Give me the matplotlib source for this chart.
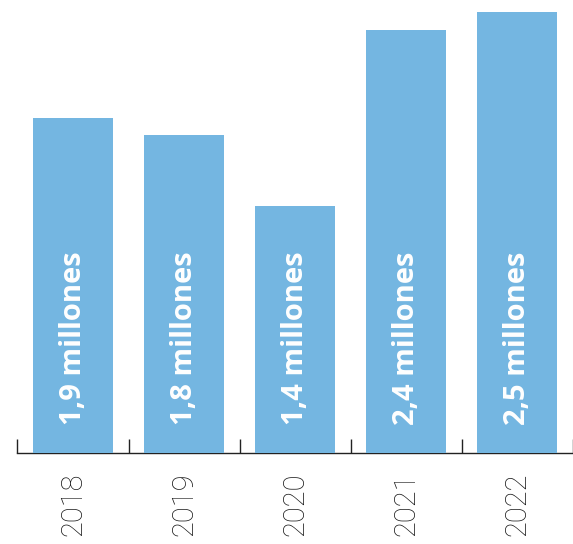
import matplotlib
matplotlib.use("Agg")
import matplotlib.pyplot as plt

years = ["2018", "2019", "2020", "2021", "2022"]
values = [1.9, 1.8, 1.4, 2.4, 2.5]
bar_labels = ["1,9 millones", "1,8 millones", "1,4 millones", "2,4 millones", "2,5 millones"]

BAR_COLOR = "#74B6E1"

fig = plt.figure(figsize=(5.73, 5.44), dpi=100)
ax = fig.add_axes([0.0305, 0.1673, 0.9695, 0.8327])

x = list(range(len(years)))
ax.bar(x, values, width=0.72, color=BAR_COLOR, zorder=3)

for xi, lab in zip(x, bar_labels):
    ax.text(xi, 0.16, lab, rotation=90, ha="center", va="bottom",
            color="white", fontsize=21, fontweight="bold",
            family=["Open Sans", "DejaVu Sans"], zorder=4)

ax.set_xlim(-0.5, 4.416)
ax.set_ylim(0, 2.568)

for side in ("top", "right", "left"):
    ax.spines[side].set_visible(False)
ax.spines["bottom"].set_color("#222222")
ax.spines["bottom"].set_linewidth(1.0)
ax.set_yticks([])

# boundary ticks between categories, pointing up
ax.set_xticks([i - 0.5 for i in range(len(years) + 1)])
ax.set_xticklabels([])
ax.tick_params(axis="x", which="major", direction="in", length=10,
               width=1.0, color="#222222")

# year labels at category centres
ax.set_xticks(x, minor=True)
ax.set_xticklabels(years, minor=True, rotation=90, fontsize=21,
                   fontweight="light", color="#1a1a1a",
                   family=["Roboto", "DejaVu Sans"])
ax.tick_params(axis="x", which="minor", length=0, pad=14)
for t in ax.get_xticklabels(minor=True):
    t.set_verticalalignment("top")

fig.savefig("out.png", dpi=100)
